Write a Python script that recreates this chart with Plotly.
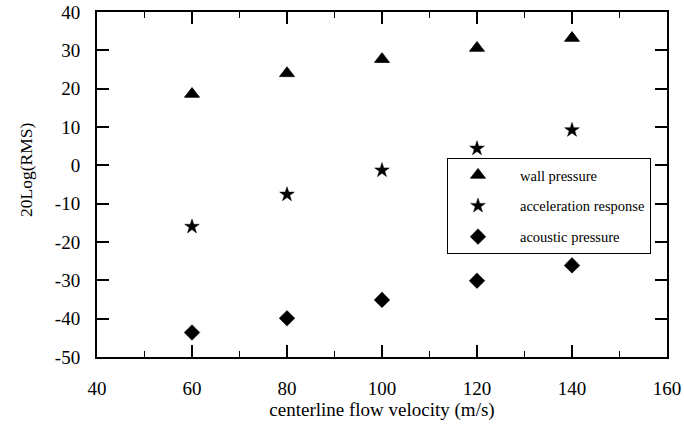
import plotly.graph_objects as go

velocity = [60, 80, 100, 120, 140]
wall_pressure = [18.6, 24.0, 27.7, 30.6, 33.2]
acceleration_response = [-16.0, -7.6, -1.3, 4.4, 9.2]
acoustic_pressure = [-43.6, -39.9, -35.1, -30.1, -26.1]
y_tick_values = [-50, -40, -30, -20, -10, 0, 10, 20, 30, 40]
y_tick_labels = ["-50", "-40", "-30", "-20", "-10", "0", "10", "20", "30", "40"]

FONT = "Liberation Serif, Times New Roman, serif"

fig = go.Figure()
fig.add_trace(go.Scatter(x=velocity, y=wall_pressure, mode="markers", name="wall pressure",
                         legendgroup="a",
                         marker=dict(symbol="triangle-up", size=13, color="black",
                                     line=dict(width=0.8, color="black"))))
fig.add_trace(go.Scatter(x=velocity, y=acceleration_response, mode="markers", name="acceleration response",
                         legendgroup="b",
                         marker=dict(symbol="star", size=11, color="black",
                                     line=dict(width=0.5, color="black"))))
fig.add_trace(go.Scatter(x=velocity, y=acoustic_pressure, mode="markers", name="acoustic pressure",
                         legendgroup="c",
                         marker=dict(symbol="diamond", size=12, color="black",
                                     line=dict(width=0.5, color="black"))))

axis_common = dict(showgrid=False, zeroline=False, showline=True, linecolor="black",
                   linewidth=2, mirror="ticks", ticks="inside", tickcolor="black",
                   tickwidth=1.5, ticklen=12, automargin=False,
                   tickfont=dict(family=FONT, size=19, color="black"))

fig.update_layout(
    width=684, height=426,
    margin=dict(l=97, r=17, t=12, b=69),
    paper_bgcolor="white", plot_bgcolor="white",
    font=dict(family=FONT, color="black"),
    xaxis=dict(range=[40, 160], dtick=20, tick0=40,
               minor=dict(dtick=10, ticks="inside", ticklen=6, tickwidth=1.2, tickcolor="black"),
               ticklabelstandoff=13,
               title=dict(text="centerline flow velocity (m/s)", font=dict(family=FONT, size=19),
                          standoff=2),
               **axis_common),
    yaxis=dict(range=[-50, 40], tickmode="array", tickvals=y_tick_values, ticktext=y_tick_labels,
               ticklabelstandoff=11, **axis_common),
    showlegend=True,
    legend=dict(x=(651 - 97) / 570, xanchor="right", y=(357 - 158) / 345, yanchor="top",
                bordercolor="black", borderwidth=1, bgcolor="white",
                font=dict(family=FONT, size=14.5, color="black"),
                itemwidth=74, indentation=-12, tracegroupgap=9),
    annotations=[dict(text="20Log(RMS)", textangle=-90, xref="paper", yref="paper",
                      x=(26 - 97) / 570, y=(357 - 170) / 345, xanchor="center", yanchor="middle",
                      showarrow=False, font=dict(family=FONT, size=17.5, color="black"))],
)

fig.write_html("out.html")
